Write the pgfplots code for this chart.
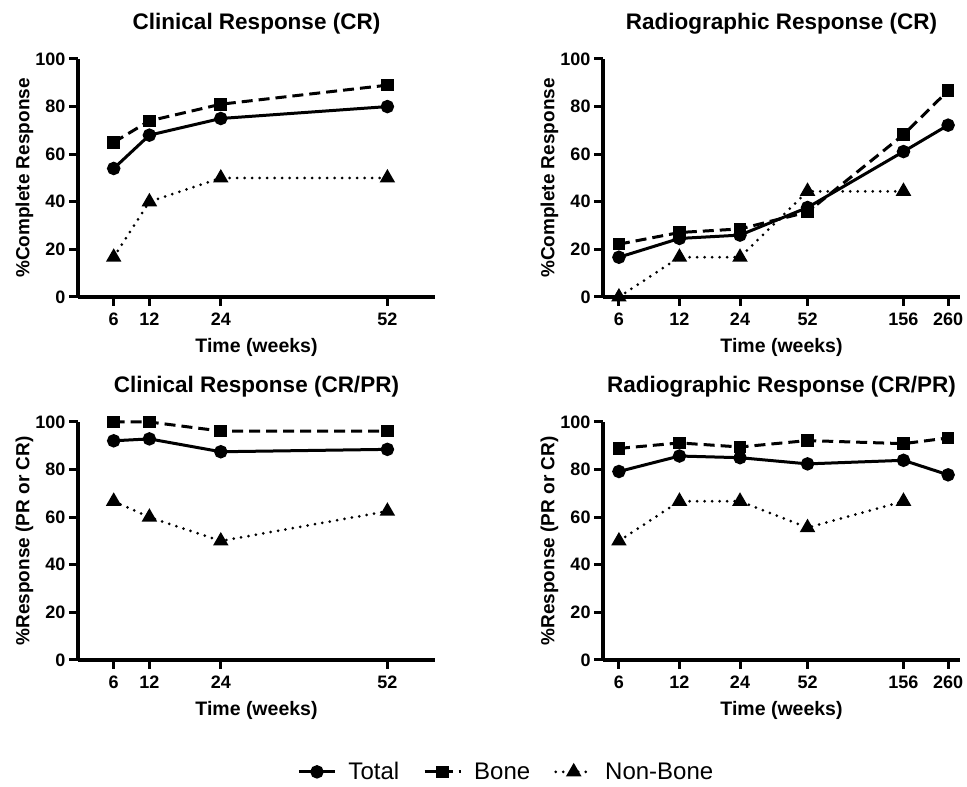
\documentclass[border=0pt]{standalone}
\usepackage{fontspec}
\setmainfont{Liberation Sans}
\usepackage{pgfplots}
\pgfplotsset{compat=1.18}

\pgfplotsset{
 panel/.style={
  scale only axis, width=357pt, height=238pt,
  anchor=south west,
  axis lines=left,
  axis line style={line width=3.2pt, -},
  every tick/.style={line width=3pt, black},
  major tick length=9pt, tick align=outside,
  ymin=0, ymax=100, ytick={0,20,...,100},
  tick label style={font=\fontsize{18}{18}\selectfont\bfseries},
  xticklabel style={yshift=-3pt},
  /pgf/number format/assume math mode=true,
  every axis x label/.style={at={(axis description cs:0.5,-0.21)}, anchor=center, font=\fontsize{19.5}{19.5}\selectfont\bfseries},
  every axis y label/.style={at={(axis description cs:-0.15,0.5)}, anchor=center, rotate=90, font=\fontsize{19}{19}\selectfont\bfseries},
  every axis title/.style={at={(axis description cs:0.5,1.15)}, anchor=center, font=\fontsize{22.5}{22.5}\selectfont\bfseries},
  xlabel={Time (weeks)},
  clip=false,
 },
 mylin/.style={xmin=0, xmax=60, xtick={6,12,24,52}},
 mylog/.style={xmin=5, xmax=298, xtick={6,12,24,52,156,260}, xticklabels={6,12,24,52,156,260}, minor xtick={}},
 total/.style={black, line width=3pt, mark=*, mark size=5.2pt, mark options={solid}},
 bone/.style={black, line width=3pt, dash pattern=on 11pt off 6pt, mark=square*, mark size=4.8pt, mark options={solid}},
 nonbone/.style={black, line width=3pt, line cap=round, dash pattern=on 0pt off 7.5pt, mark=triangle*, mark size=6pt, mark options={solid}},
}

\begin{document}
\begin{tikzpicture}
\path[use as bounding box] (0pt,0pt) rectangle (967pt,787pt);

% Top left
\begin{axis}[panel, mylin, at={(78pt,490pt)}, title={Clinical Response (CR)}, ylabel={\%Complete Response}]
\addplot[total] coordinates {(6,54) (12,68) (24,75) (52,80)};
\addplot[bone] coordinates {(6,65) (12,74) (24,81) (52,89)};
\addplot[nonbone] coordinates {(6,16.7) (12,40) (24,50) (52,50)};
\end{axis}

% Top right
\begin{axis}[xmode=log, panel, mylog, at={(603pt,490pt)}, title={Radiographic Response (CR)}, ylabel={\%Complete Response}]
\addplot[total] coordinates {(6,16.7) (12,24.6) (24,26) (52,37.6) (156,61.1) (260,72.2)};
\addplot[bone] coordinates {(6,22.2) (12,27.1) (24,28.6) (52,35.7) (156,68.2) (260,86.7)};
\addplot[nonbone] coordinates {(6,0) (12,16.7) (24,16.7) (52,44.4) (156,44.4)};
\end{axis}

% Bottom left
\begin{axis}[panel, mylin, at={(78pt,127pt)}, title={Clinical Response (CR/PR)}, ylabel={\%Response (PR or CR)},
  legend columns=3,
  legend style={at={(axis description cs:1.2,-0.47)}, anchor=center, draw=none, fill=none,
    font=\fontsize{24}{24}\selectfont,
    /tikz/every even column/.append style={column sep=22pt},
    /tikz/every odd column/.append style={column sep=10pt}},
  legend cell align=left,
  legend image code/.code={\draw[mark repeat=2, mark phase=2] plot coordinates {(0pt,0pt) (18pt,0pt) (36pt,0pt)};}]
\addplot[total] coordinates {(6,92.1) (12,92.9) (24,87.5) (52,88.5)};
\addlegendentry{Total}
\addplot[bone] coordinates {(6,100) (12,100) (24,96.2) (52,96.2)};
\addlegendentry{Bone}
\addplot[nonbone] coordinates {(6,66.7) (12,60) (24,50) (52,62.5)};
\addlegendentry{Non-Bone}
\end{axis}

% Bottom right
\begin{axis}[xmode=log, panel, mylog, at={(603pt,127pt)}, title={Radiographic Response (CR/PR)}, ylabel={\%Response (PR or CR)}]
\addplot[total] coordinates {(6,79.2) (12,85.7) (24,85) (52,82.4) (156,83.9) (260,77.8)};
\addplot[bone] coordinates {(6,88.9) (12,91.2) (24,89.5) (52,92.2) (156,90.9) (260,93.3)};
\addplot[nonbone] coordinates {(6,50) (12,66.7) (24,66.7) (52,55.6) (156,66.7)};
\end{axis}
\end{tikzpicture}
\end{document}
